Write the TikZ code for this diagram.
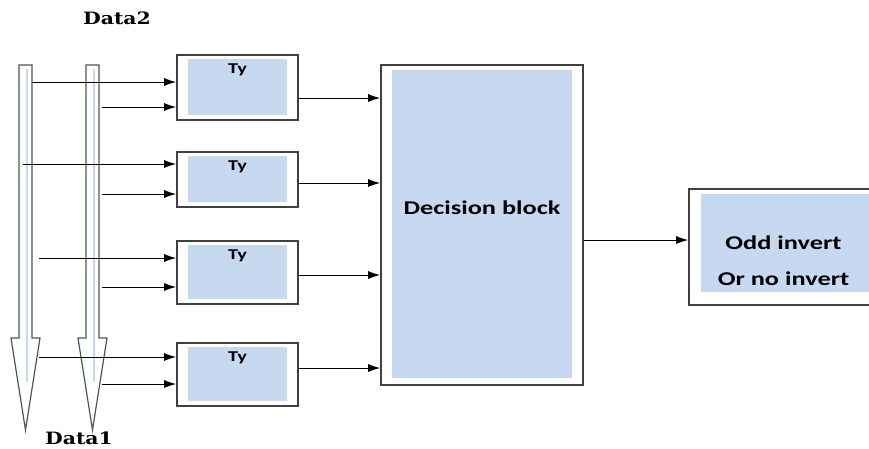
\documentclass[tikz,border=0pt]{standalone}
\usepackage{fontspec}
\newfontfamily\blockfont[FakeStretch=1.35]{Carlito}
\newfontfamily\datafont[FakeStretch=1.2]{DejaVu Serif}
\usetikzlibrary{arrows.meta}
\definecolor{boxblue}{HTML}{C6D9F1}
\definecolor{edgegray}{HTML}{404040}
\tikzset{
  conn/.style={-{Latex[length=12pt,width=8pt]},line width=1pt},
  blueinset/.style n args={4}{path picture={
    \fill[boxblue] ([xshift=#1pt,yshift=-#2pt]path picture bounding box.north west)
      rectangle ([xshift=-#3pt,yshift=#4pt]path picture bounding box.south east);}},
  outerbox/.style={draw=edgegray,line width=1.6pt,rectangle,inner sep=0pt},
  tybox/.style={outerbox,minimum width=121pt,blueinset={11}{4}{11}{5}},
  tytext/.style={font=\blockfont\bfseries\fontsize{15}{18}\selectfont,inner sep=0pt},
  blocktext/.style={font=\blockfont\bfseries\fontsize{19.5}{36}\selectfont,align=center},
  datatext/.style={font=\datafont\bfseries\fontsize{17}{20}\selectfont},
  bigarrow/.style={draw=edgegray!90,line width=1.2pt,fill=white},
  shaftline/.style={boxblue,line width=2pt}
}
\begin{document}
\begin{tikzpicture}[x=1pt,y=-1pt]
\useasboundingbox (0,0) rectangle (869,448);
\clip (0,0) rectangle (869,448);
% data buses
\foreach \ax in {25.5,92.5}{
  \draw[bigarrow] ({\ax-6.5},65) -- ({\ax+6.5},65) -- ({\ax+6.5},338) -- ({\ax+14.5},338)
    -- (\ax,430) -- ({\ax-14.5},338) -- ({\ax-6.5},338) -- cycle;
  \draw[shaftline] ({\ax+1},69) -- ({\ax+1},382);
}
\node[datatext] (data2) at (117,18) {Data2};
\node[datatext] (data1) at (79,438) {Data1};
% decision and output blocks
\node[outerbox,minimum width=202pt,minimum height=320pt,blueinset={11}{5}{11}{7},
  label={[blocktext,yshift=17pt]center:Decision block}] (dec) at (482,225) {};
\node[outerbox,minimum width=211pt,minimum height=116pt,blueinset={12}{5}{9}{13},
  label={[blocktext,xshift=-11pt,yshift=-14pt]center:Odd invert\\Or no invert}] (outb) at (794.5,247) {};
\draw[conn] (dec.east |- 0,240) coordinate (dout) -- (outb.west |- dout);
% Ty blocks
\foreach \i/\c/\h/\ya/\xa/\yb/\yo in {1/87.5/65/82/32/107/98,2/179.5/55/164/23/194/183,
  3/272.5/63/258/39/287/275,4/374.5/63/357/39/384/368}{
  \node[tybox,minimum height=\h pt] (ty\i) at (237.5,\c) {};
  \node[tytext,anchor=north] (tyl\i) at ([yshift=-9pt]ty\i.north) {Ty};
  \coordinate (ina\i) at (\xa,\ya);
  \coordinate (inb\i) at (102,\yb);
  \coordinate (out\i) at (300,\yo);
  \draw[conn] (ina\i) -- (ina\i -| ty\i.west);
  \draw[conn] (inb\i) -- (inb\i -| ty\i.west);
  \draw[conn] (ty\i.east |- out\i) -- (dec.west |- out\i);
}
\end{tikzpicture}
\end{document}
